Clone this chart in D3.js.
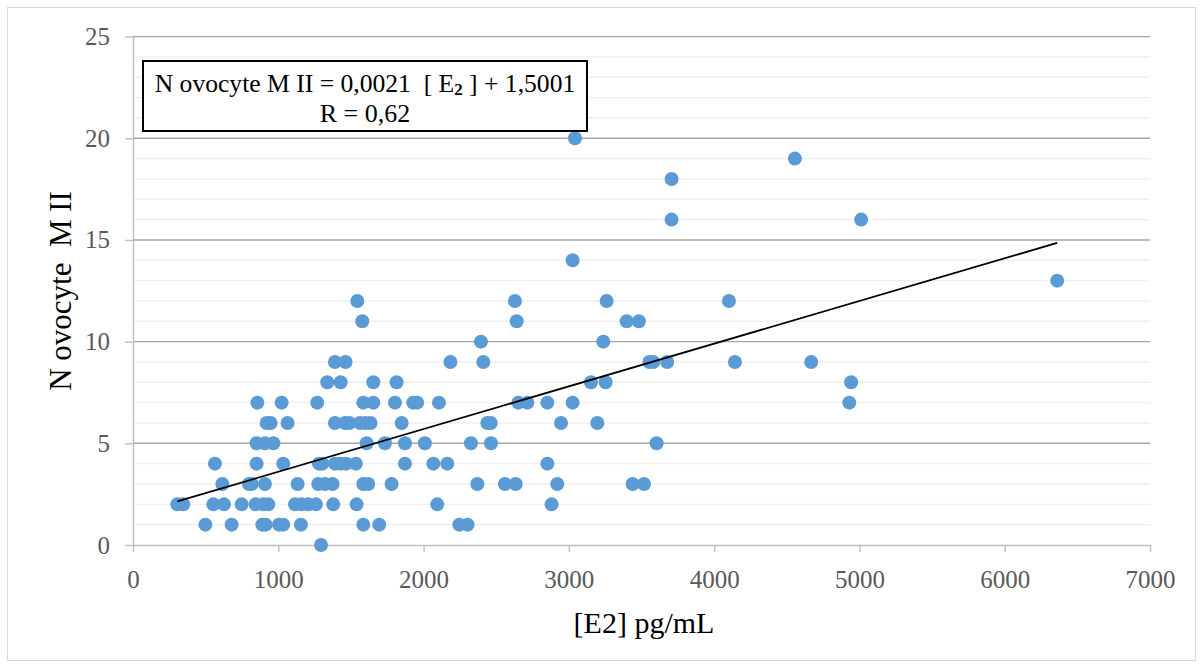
<!DOCTYPE html>
<html>
<head>
<meta charset="utf-8">
<script src="https://cdn.jsdelivr.net/npm/d3@7"></script>
<style>
  body { margin: 0; background: #fff; }
  svg { display: block; font-family: "Liberation Serif", "Times New Roman", serif; }
</style>
</head>
<body>
<div id="chart"></div>
<script>
// [E2] pg/mL values, grouped by the oocyte count they were read at
var e2Values = [
  1294,
  498, 679, 890, 913, 1005, 1034, 1156, 1585, 1695, 2246, 2303,
  305, 346, 553, 626, 748, 844, 897, 931, 1115, 1161, 1206, 1259, 1378, 1539, 2094, 2881,
  615, 798, 817, 908, 1133, 1275, 1321, 1374, 1585, 1619, 1780, 2370, 2560, 2634, 2920, 3439, 3517,
  564, 851, 1034, 1280, 1303, 1390, 1429, 1466, 1534, 1872, 2067, 2163, 2852,
  851, 908, 966, 1608, 1734, 1872, 2009, 2326, 2464, 3604,
  920, 947, 1064, 1390, 1459, 1489, 1562, 1601, 1635, 1849, 2439, 2462, 2946, 3196,
  856, 1023, 1268, 1585, 1654, 1803, 1929, 1956, 2106, 2652, 2714, 2852, 3026, 4930,
  1337, 1429, 1654, 1814, 3152, 3253, 4943,
  1390, 1463, 2185, 2411, 3554, 3581, 3677, 4143, 4668,
  2395, 3237,
  1578, 2641, 3398, 3482,
  1544, 2629, 3260, 4102,
  6361, 3026, 3707, 5012, 3707, 4556, 3042
];
// N ovocyte M II, same order as above
var oocyteValues = [
  0,
  1, 1, 1, 1, 1, 1, 1, 1, 1, 1, 1,
  2, 2, 2, 2, 2, 2, 2, 2, 2, 2, 2, 2, 2, 2, 2, 2,
  3, 3, 3, 3, 3, 3, 3, 3, 3, 3, 3, 3, 3, 3, 3, 3, 3,
  4, 4, 4, 4, 4, 4, 4, 4, 4, 4, 4, 4, 4,
  5, 5, 5, 5, 5, 5, 5, 5, 5, 5,
  6, 6, 6, 6, 6, 6, 6, 6, 6, 6, 6, 6, 6, 6,
  7, 7, 7, 7, 7, 7, 7, 7, 7, 7, 7, 7, 7, 7,
  8, 8, 8, 8, 8, 8, 8,
  9, 9, 9, 9, 9, 9, 9, 9, 9,
  10, 10,
  11, 11, 11, 11,
  12, 12, 12, 12,
  13, 14, 16, 16, 18, 19, 20
];

var xTicks = [0, 1000, 2000, 3000, 4000, 5000, 6000, 7000];
var yTicks = [0, 5, 10, 15, 20, 25];
var yMinor = d3.range(1, 25).filter(function (v) { return v % 5 !== 0; });

// regression shown on the chart
var trendSlope = 0.0021;
var trendIntercept = 1.5001;
var equationLabel = ['N ovocyte M II = 0,0021  [ E', '2', ' ] + 1,5001'];
var rLabel = 'R = 0,62';

var width = 1203, height = 668;
var plot = { left: 133, right: 1150, top: 36.6, bottom: 545 };

var svg = d3.select('#chart').append('svg')
    .attr('width', width)
    .attr('height', height);

// chart frame
svg.append('rect')
    .attr('x', 7.5).attr('y', 7.5)
    .attr('width', 1188).attr('height', 653)
    .attr('fill', '#fff')
    .attr('stroke', '#d9d9d9')
    .attr('stroke-width', 1);

var x = d3.scaleLinear().domain([0, 7000]).range([plot.left, plot.right]);
var y = d3.scaleLinear().domain([0, 25]).range([plot.bottom, plot.top]);

// minor gridlines
svg.append('g').selectAll('line')
    .data(yMinor)
    .enter().append('line')
      .attr('x1', plot.left).attr('x2', plot.right)
      .attr('y1', function (d) { return y(d); })
      .attr('y2', function (d) { return y(d); })
      .attr('stroke', '#efefef')
      .attr('stroke-width', 1.4);

// major gridlines
svg.append('g').selectAll('line')
    .data(yTicks.filter(function (d) { return d > 0; }))
    .enter().append('line')
      .attr('x1', plot.left).attr('x2', plot.right)
      .attr('y1', function (d) { return y(d); })
      .attr('y2', function (d) { return y(d); })
      .attr('stroke', '#a6a6a6')
      .attr('stroke-width', 1.4);

var xAxis = svg.append('g')
    .attr('transform', 'translate(0,' + plot.bottom + ')')
    .call(d3.axisBottom(x).tickValues(xTicks).tickFormat(d3.format('d'))
      .tickSize(7).tickSizeOuter(0).tickPadding(18));

var yAxis = svg.append('g')
    .attr('transform', 'translate(' + plot.left + ',0)')
    .call(d3.axisLeft(y).tickValues(yTicks).tickFormat(d3.format('d'))
      .tickSize(8).tickSizeOuter(0).tickPadding(15));

[xAxis, yAxis].forEach(function (ax) {
  ax.select('.domain').attr('stroke', '#bfbfbf').attr('stroke-width', 1.4);
  ax.selectAll('.tick line').attr('stroke', '#bfbfbf').attr('stroke-width', 1.4);
  ax.selectAll('.tick text')
      .attr('fill', '#595959')
      .style('font-family', '"Liberation Serif", serif')
      .style('font-size', '25px');
});

// points
svg.append('g').selectAll('circle')
    .data(e2Values)
    .enter().append('circle')
      .attr('cx', function (d) { return x(d); })
      .attr('cy', function (d, i) { return y(oocyteValues[i]); })
      .attr('r', 7)
      .attr('fill', '#5b9bd5');

// linear trendline across the data range
var xExtent = d3.extent(e2Values);
svg.append('line')
    .attr('x1', x(xExtent[0]))
    .attr('y1', y(trendSlope * xExtent[0] + trendIntercept))
    .attr('x2', x(xExtent[1]))
    .attr('y2', y(trendSlope * xExtent[1] + trendIntercept))
    .attr('stroke', '#000')
    .attr('stroke-width', 1.8);

// equation box
svg.append('rect')
    .attr('x', 143).attr('y', 61)
    .attr('width', 444).attr('height', 70)
    .attr('fill', '#fff')
    .attr('stroke', '#000')
    .attr('stroke-width', 2);

var eq = svg.append('text')
    .attr('x', 365).attr('y', 92)
    .attr('text-anchor', 'middle')
    .style('font-size', '25.6px')
    .style('white-space', 'pre')
    .attr('fill', '#000');
eq.append('tspan').text(equationLabel[0]);
eq.append('tspan').text(equationLabel[1])
    .style('font-size', '17px')
    .style('font-weight', 'bold')
    .attr('dy', 3);
eq.append('tspan').text(equationLabel[2]).attr('dy', -3);

svg.append('text')
    .attr('x', 365).attr('y', 122)
    .attr('text-anchor', 'middle')
    .style('font-size', '26px')
    .attr('fill', '#000')
    .text(rLabel);

// axis titles
svg.append('text')
    .attr('transform', 'translate(71,291)rotate(-90)')
    .attr('text-anchor', 'middle')
    .style('font-size', '31px')
    .style('white-space', 'pre')
    .attr('fill', '#000')
    .text('N ovocyte  M II');

svg.append('text')
    .attr('x', 644).attr('y', 633)
    .attr('text-anchor', 'middle')
    .style('font-size', '30px')
    .attr('fill', '#000')
    .text('[E2] pg/mL');
</script>
</body>
</html>
